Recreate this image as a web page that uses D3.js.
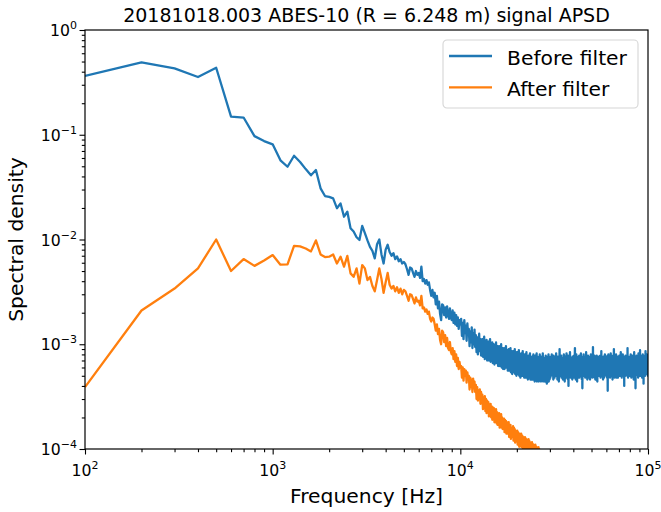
<!DOCTYPE html>
<meta charset="utf-8">
<script src="https://d3js.org/d3.v7.min.js"></script>
<style>
  body { margin: 0; background: #fff; }
  text { font-family: "DejaVu Sans", sans-serif; fill: #000; }
</style>
<div id="my_dataviz"></div>
<script>

// frequency bins are 100 Hz apart, starting at 100 Hz
var freqStep = 100;

// "Before filter" spectrum, in units of 1e-5
var BEFORE_UNIT = 1e-5;
var before_100Hz = [36400, 49000, 43000, 35600, 43600, 14900, 14600, 9700, 8700];
var before_1kHz = [
  8100, 5700, 4950, 6300, 5500, 4700, 4100, 4600, 3080, 2600,
  2550, 2470, 1990, 2210, 1650, 1840, 1280, 1190, 1050, 990,
  1350, 1150, 980, 850, 780, 660, 900, 1000, 720, 590,
  800, 890, 760, 700, 740, 650, 690, 620, 650, 590,
  610, 580, 520, 460, 540, 530, 480, 440, 500, 460,
  480, 430, 550, 400, 420, 380, 410, 370, 390, 330,
  290, 330, 280, 310, 240, 290, 220, 255, 195, 170,
  240, 235, 190, 225, 180, 230, 190, 175, 220, 180,
  170, 210, 160, 200, 155, 190, 150, 180, 140, 170
];
var before_10kHz = [
  155,
  175, 120, 160, 112, 170, 128, 150, 108, 158, 124,
  140, 96, 132, 104, 145, 92, 126, 100, 138, 94,
  122, 84, 116, 80, 108, 126, 86, 112, 78, 104,
  112, 76, 104, 118, 72, 98, 84, 110, 70, 100,
  106, 70, 98, 112, 68, 92, 80, 104, 66, 96,
  100, 64, 92, 72, 104, 66, 88, 96, 62, 84,
  96, 62, 88, 70, 100, 60, 84, 92, 58, 80,
  92, 58, 86, 66, 96, 60, 80, 88, 56, 76,
  90, 56, 82, 64, 92, 54, 78, 86, 52, 74,
  86, 54, 78, 62, 90, 52, 74, 84, 50, 72,
  84, 52, 76, 60, 88, 50, 72, 80, 48, 70,
  82, 50, 76, 58, 86, 50, 70, 80, 48, 68,
  80, 48, 74, 56, 84, 48, 68, 78, 46, 66,
  78, 48, 72, 54, 82, 46, 66, 76, 46, 64,
  76, 46, 70, 54, 80, 46, 66, 74, 44, 64,
  78, 46, 68, 52, 82, 44, 64, 76, 46, 62,
  74, 44, 70, 52, 80, 46, 62, 76, 44, 64,
  76, 46, 66, 54, 82, 44, 64, 72, 46, 62,
  74, 44, 68, 52, 78, 46, 64, 76, 42, 62,
  76, 46, 66, 54, 80, 44, 62, 74, 46, 64,
  64, 48, 76, 58, 70, 52, 80, 56, 66, 50,
  72, 60, 46, 78, 62, 54, 68, 48, 74, 58,
  52, 70, 64, 82, 50, 66, 56, 72, 46, 62,
  76, 54, 60, 68, 44, 74, 58, 90, 52, 64,
  58, 72, 50, 66, 78, 48, 62, 70, 54, 60,
  68, 46, 74, 56, 64, 80, 50, 58, 72, 44,
  62, 76, 54, 70, 48, 66, 60, 82, 52, 68,
  56, 64, 72, 46, 78, 58, 40, 66, 74, 54,
  70, 50, 62, 84, 56, 68, 48, 72, 60, 64,
  52, 74, 58, 66, 46, 76, 62, 54, 70, 50,
  66, 60, 78, 48, 64, 56, 72, 92, 54, 62,
  74, 46, 68, 58, 80, 52, 60, 70, 44, 66,
  58, 72, 50, 64, 76, 54, 68, 48, 62, 78,
  48, 66, 60, 74, 52, 70, 56, 64, 82, 50,
  64, 54, 76, 46, 68, 60, 38, 72, 58, 66,
  70, 58, 62, 80, 50, 64, 74, 52, 66, 56,
  54, 76, 48, 66, 60, 72, 56, 84, 50, 62,
  68, 50, 70, 58, 46, 74, 62, 54, 78, 60,
  60, 66, 52, 72, 64, 48, 70, 58, 62, 76,
  46, 68, 74, 56, 62, 80, 50, 66, 54, 70,
  62, 52, 64, 76, 48, 58, 72, 60, 94, 56,
  74, 60, 50, 66, 70, 54, 62, 78, 48, 64,
  56, 70, 62, 46, 76, 64, 52, 68, 60, 72,
  64, 48, 78, 60, 56, 70, 44, 66, 74, 58,
  70, 62, 54, 72, 66, 50, 76, 58, 62, 52,
  58, 74, 66, 50, 62, 78, 56, 70, 48, 66,
  72, 54, 60, 86, 52, 64, 68, 56, 74, 60,
  50, 66, 72, 58, 70, 46, 62, 76, 54, 68,
  64, 58, 48, 70, 62, 74, 56, 60, 80, 52,
  68, 72, 60, 54, 76, 58, 66, 50, 64, 70,
  56, 62, 74, 66, 48, 70, 60, 78, 58, 36,
  72, 50, 64, 58, 80, 62, 54, 68, 74, 60,
  60, 76, 56, 70, 52, 66, 72, 48, 62, 68,
  66, 54, 82, 60, 64, 50, 74, 62, 56, 72,
  52, 68, 62, 74, 58, 70, 46, 66, 78, 60,
  74, 60, 56, 66, 72, 54, 64, 90, 58, 62,
  58, 70, 64, 48, 76, 62, 68, 56, 72, 50,
  66, 56, 74, 62, 54, 80, 60, 66, 48, 70,
  62, 72, 50, 68, 64, 58, 76, 52, 70, 60,
  70, 48, 66, 76, 56, 64, 60, 74, 54, 68,
  54, 64, 78, 58, 70, 50, 68, 62, 76, 58,
  68, 60, 52, 72, 62, 84, 56, 64, 50, 70,
  60, 74, 64, 56, 48, 66, 72, 58, 68, 62,
  72, 52, 68, 80, 60, 56, 64, 74, 52, 66,
  58, 66, 60, 50, 74, 62, 40, 70, 64, 56,
  66, 76, 54, 64, 68, 58, 72, 50, 78, 62,
  52, 62, 70, 58, 56, 74, 60, 66, 54, 72,
  70, 56, 64, 76, 50, 68, 62, 92, 58, 60,
  62, 72, 48, 66, 74, 56, 64, 70, 52, 68,
  74, 54, 62, 58, 70, 64, 50, 76, 60, 66,
  56, 68, 76, 52, 64, 72, 58, 62, 80, 50,
  64, 60, 54, 70, 48, 66, 74, 56, 68, 62,
  72, 50, 66, 62, 78, 58, 54, 70, 64, 76,
  58, 74, 60, 56, 66, 50, 72, 64, 46, 68,
  66, 62, 72, 84, 54, 64, 60, 74, 58, 56,
  52, 70, 58, 64, 76, 62, 68, 38, 66, 72,
  68, 56, 74, 50, 62, 70, 56, 64, 78, 60,
  60, 66, 52, 72, 58, 76, 62, 54, 70, 64,
  74, 58, 64, 60, 68, 48, 72, 66, 56, 82,
  56, 72, 62, 76, 54, 64, 58, 70, 60, 50,
  66, 60, 70, 52, 74, 62, 88, 56, 64, 68,
  62, 54, 66, 72, 50, 68, 60, 76, 58, 62,
  70, 64, 56, 60, 78, 54, 66, 62, 72, 48,
  58, 76, 68, 52, 64, 70, 56, 80, 60, 66,
  64, 50, 72, 62, 58, 74, 42, 66, 70, 56,
  72, 66, 54, 76, 62, 60, 68, 52, 74, 64,
  54, 62, 78, 58, 70, 50, 64, 72, 56, 86,
  68, 58, 62, 66, 52, 76, 60, 64, 70, 54,
  60, 74, 56, 70, 64, 58, 80, 54, 66, 62,
  70, 52, 68, 60, 76, 56, 64, 72, 50, 66
];

// "After filter" spectrum, in units of 1e-6 (drops below the axis after ~25 kHz)
var AFTER_UNIT = 1e-6;
var after_100Hz = [390, 2100, 3400, 5300, 10000, 5000, 6500, 5600, 6300];
var after_1kHz = [
  7100, 5750, 5800, 8700, 8600, 8200, 7700, 9800, 7200, 6800,
  6850, 7200, 5900, 6850, 5500, 6970, 4750, 4400, 5300, 3800,
  5700, 5300, 4100, 4400, 3600, 3200, 4100, 5300, 4200, 3100,
  3900, 4800, 3700, 3400, 3600, 3200, 3500, 3100, 3400, 3000,
  3300, 3200, 2900, 2600, 3000, 2950, 2700, 2450, 2800, 2550,
  2600, 2350, 2900, 2200, 2250, 2050, 2150, 1950, 2050, 1750,
  1650, 1800, 1750, 1550, 1350, 1550, 1250, 1400, 1100, 1000,
  1350, 1300, 1050, 1220, 960, 1150, 920, 880, 1050, 850,
  800, 920, 720, 860, 680, 800, 620, 740, 580, 680
];
var after_10kHz = [
  600,
  620, 480, 600, 450, 580, 500, 560, 430, 540, 470,
  500, 370, 480, 390, 460, 350, 470, 380, 440, 350,
  410, 300, 390, 290, 360, 320, 370, 270, 350, 290,
  330, 240, 310, 250, 320, 230, 300, 220, 290, 240,
  280, 205, 265, 215, 270, 200, 255, 190, 250, 210,
  245, 180, 235, 185, 240, 175, 225, 170, 220, 185,
  220, 160, 210, 170, 215, 160, 200, 155, 195, 170,
  195, 145, 190, 150, 185, 140, 180, 140, 175, 150,
  180, 130, 170, 135, 170, 125, 160, 130, 160, 135,
  165, 120, 160, 125, 155, 115, 150, 120, 145, 125,
  150, 110, 145, 115, 140, 105, 140, 110, 135, 115,
  140, 104, 135, 106, 132, 100, 130, 102, 126, 106,
  130, 96, 126, 98, 124, 92, 120, 96, 118, 98,
  124, 90, 120, 92, 116, 88, 114, 90, 112, 92,
  116, 86, 112, 88, 110, 84, 108, 86, 104, 88,
  110, 82, 106, 84, 104, 80, 100, 82, 98, 84,
  104, 78, 100, 80, 96, 76, 94, 78, 92, 80
];

var seriesNames = ["Before filter", "After filter"];
var seriesColors = ["#1f77b4", "#ff7f0e"];
var xTickExps = [2, 3, 4, 5];
var yTickExps = [0, -1, -2, -3, -4];

function toPoints(values, unit) {
  return values.map(function (v, i) {
    return { f: (i + 1) * freqStep, v: v * unit };
  });
}

var before = toPoints(before_100Hz.concat(before_1kHz, before_10kHz), BEFORE_UNIT);
var after = toPoints(after_100Hz.concat(after_1kHz, after_10kHz), AFTER_UNIT);

var width = 661, height = 512;
var margin = { top: 30, right: 13, bottom: 63, left: 85 };

var svg = d3.select("#my_dataviz")
  .append("svg")
  .attr("width", width)
  .attr("height", height);

var x = d3.scaleLog().domain([1e2, 1e5]).range([margin.left, width - margin.right]);
var y = d3.scaleLog().domain([1e-4, 1e0]).range([height - margin.bottom, margin.top]);

svg.append("clipPath").attr("id", "plotclip")
  .append("rect")
  .attr("x", x.range()[0]).attr("y", y.range()[1])
  .attr("width", x.range()[1] - x.range()[0])
  .attr("height", y.range()[0] - y.range()[1]);

// lines
var line = d3.line()
  .x(function (d) { return x(d.f); })
  .y(function (d) { return y(d.v); });

var lines = svg.append("g").attr("clip-path", "url(#plotclip)");
[before, after].forEach(function (s, i) {
  lines.append("path")
    .datum(s)
    .attr("d", line)
    .attr("fill", "none")
    .attr("stroke", seriesColors[i])
    .attr("stroke-width", 2.3)
    .attr("stroke-linejoin", "round");
});

// minor ticks
function minorValues(lo, hi) {
  var out = [];
  for (var e = lo; e < hi; e++) {
    for (var m = 2; m <= 9; m++) out.push(m * Math.pow(10, e));
  }
  return out;
}

var x0 = y.range()[0], yLeft = x.range()[0];

svg.append("g")
  .attr("transform", "translate(0," + x0 + ")")
  .call(d3.axisBottom(x).tickValues(minorValues(2, 5)).tickSize(3.2).tickFormat(""))
  .call(function (g) { g.select(".domain").remove(); });
svg.append("g")
  .attr("transform", "translate(0," + x0 + ")")
  .call(d3.axisBottom(x).tickValues(xTickExps.map(function (e) { return Math.pow(10, e); })).tickSize(5.5).tickFormat(""))
  .call(function (g) { g.select(".domain").remove(); });

svg.append("g")
  .attr("transform", "translate(" + yLeft + ",0)")
  .call(d3.axisLeft(y).tickValues(minorValues(-4, 0)).tickSize(3.2).tickFormat(""))
  .call(function (g) { g.select(".domain").remove(); });
svg.append("g")
  .attr("transform", "translate(" + yLeft + ",0)")
  .call(d3.axisLeft(y).tickValues(yTickExps.map(function (e) { return Math.pow(10, e); })).tickSize(5.5).tickFormat(""))
  .call(function (g) { g.select(".domain").remove(); });

svg.selectAll(".tick line").attr("stroke", "#000").attr("stroke-width", 1.1);

// tick labels with superscript exponents
function expLabel(sel, e) {
  sel.append("tspan").text("10");
  sel.append("tspan")
    .attr("font-size", 11)
    .attr("dy", -7)
    .text(e < 0 ? "\u2212" + (-e) : String(e));
}

xTickExps.forEach(function (e) {
  var t = svg.append("text")
    .attr("x", x(Math.pow(10, e)))
    .attr("y", x0 + 27)
    .attr("text-anchor", "middle")
    .attr("font-size", 15.7);
  expLabel(t, e);
});

yTickExps.forEach(function (e) {
  var t = svg.append("text")
    .attr("x", yLeft - 8)
    .attr("y", y(Math.pow(10, e)) + 6)
    .attr("text-anchor", "end")
    .attr("font-size", 15.7);
  expLabel(t, e);
});

// frame
svg.append("rect")
  .attr("x", x.range()[0]).attr("y", y.range()[1])
  .attr("width", x.range()[1] - x.range()[0])
  .attr("height", y.range()[0] - y.range()[1])
  .attr("fill", "none")
  .attr("stroke", "#000")
  .attr("stroke-width", 1.2);

var cx = (x.range()[0] + x.range()[1]) / 2;
var cy = (y.range()[0] + y.range()[1]) / 2;

// title and axis labels
svg.append("text")
  .attr("x", cx).attr("y", 22)
  .attr("text-anchor", "middle")
  .attr("font-size", 19)
  .text("20181018.003 ABES-10 (R = 6.248 m) signal APSD");

svg.append("text")
  .attr("x", cx).attr("y", 503)
  .attr("text-anchor", "middle")
  .attr("font-size", 20.3)
  .text("Frequency [Hz]");

svg.append("text")
  .attr("transform", "translate(23," + cy + ") rotate(-90)")
  .attr("text-anchor", "middle")
  .attr("font-size", 20.3)
  .text("Spectral density");

// legend
var legend = svg.append("g").attr("transform", "translate(443,40)");
legend.append("rect")
  .attr("width", 195).attr("height", 68)
  .attr("rx", 4)
  .attr("fill", "#fff").attr("fill-opacity", 0.8)
  .attr("stroke", "#d6d6d6").attr("stroke-width", 1.1);

seriesNames.forEach(function (name, i) {
  var ly = 16 + i * 31.3;
  legend.append("line")
    .attr("x1", 6).attr("x2", 49)
    .attr("y1", ly).attr("y2", ly)
    .attr("stroke", seriesColors[i])
    .attr("stroke-width", 2.3);
  legend.append("text")
    .attr("x", 64).attr("y", ly + 8.5)
    .attr("font-size", 20.3)
    .text(name);
});

</script>
